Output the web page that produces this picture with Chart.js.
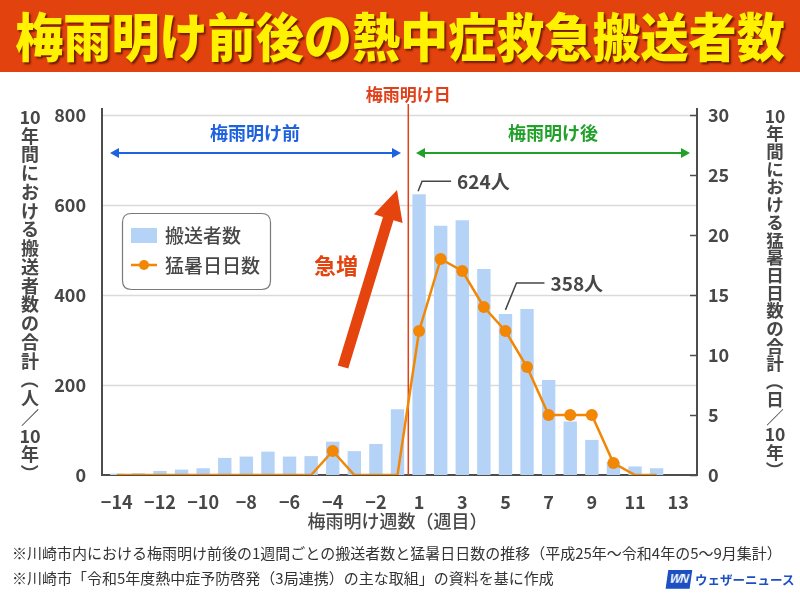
<!DOCTYPE html>
<html><head><meta charset="utf-8">
<script src="https://cdn.jsdelivr.net/npm/chart.js@4.4.0/dist/chart.umd.min.js"></script>
<style>
html,body{margin:0;padding:0;background:#fff;}
#wrap{position:relative;width:800px;height:600px;overflow:hidden;font-family:"Noto Sans CJK JP","Noto Sans",sans-serif;}
#banner{position:absolute;left:0;top:0;width:800px;height:72px;background:#e2420e;z-index:2;overflow:hidden;}
#banner h1{margin:0;position:absolute;left:-200px;top:0;width:1200px;line-height:70px;text-align:center;color:#fff100;font-size:52px;font-weight:900;transform:scaleX(0.925);transform-origin:center;text-shadow:2px 2px 2px rgba(90,20,0,0.85);white-space:nowrap;}
#c{position:absolute;left:0;top:0;}
.note{position:absolute;left:12px;font-size:15px;color:#333;white-space:nowrap;line-height:18px;z-index:2;}
#logo{position:absolute;left:667px;top:569px;height:20px;display:flex;align-items:center;z-index:2;white-space:nowrap;}
#logo .mark{background:#1b4fc2;color:#fff;font:bold italic 12px "Liberation Sans",sans-serif;padding:2px 3px;letter-spacing:-1px;transform:skewX(-8deg);}
#logo .name{color:#1b4fc2;font-weight:bold;font-size:12.5px;margin-left:4px;white-space:nowrap;}
</style></head>
<body>
<div id="wrap">
<canvas id="c" width="800" height="600"></canvas>
<div id="banner"><h1>梅雨明け前後の熱中症救急搬送者数</h1></div>
<div class="note" style="top:544px;">※川崎市内における梅雨明け前後の1週間ごとの搬送者数と猛暑日日数の推移（平成25年～令和4年の5～9月集計）</div>
<div class="note" style="top:569px;">※川崎市「令和5年度熱中症予防啓発（3局連携）の主な取組」の資料を基に作成</div>
<div id="logo"><span class="mark">WN</span><span class="name">ウェザーニュース</span></div>
</div>
<script>
const weeks = ["−14","−13","−12","−11","−10","−9","−8","−7","−6","−5","−4","−3","−2","−1","1","2","3","4","5","6","7","8","9","10","11","12","13"];
const transportCounts = [3,4,9,12,15,38,41,52,41,42,74,53,69,146,624,554,566,458,358,369,211,119,78,29,19,15,0];
const hotDayCounts = [0,0,0,0,0,0,0,0,0,0,2,0,0,0,12,18,17,14,12,9,5,5,5,1,0,0,null];
const countAxis = {min:0,max:800,step:200};
const dayAxis = {min:0,max:30,step:5};
const seriesNames = ["搬送者数","猛暑日日数"];
const leftTitle = ["10","年","間","に","お","け","る","搬","送","者","数","の","合","計","（","人","／","10","年","）"];
const rightTitle = ["10","年","間","に","お","け","る","猛","暑","日","日","数","の","合","計","（","日","／","10","年","）"];
const xTitle = "梅雨明け週数（週目）";
const callouts = [{index:14,text:"624人"},{index:18,text:"358人"}];

const JP = '"Noto Sans CJK JP","Noto Sans",sans-serif';
const BAR = '#b5d3f7', ORANGE = '#f28705', RED = '#e0401a', TXT = '#474747';

function vtext(ctx, cells, cx, y0, step){
  ctx.save();
  ctx.textAlign='center'; ctx.textBaseline='middle';
  cells.forEach((c,i)=>{
    const y=y0+i*step;
    if(c==='（'||c==='）'){
      ctx.save(); ctx.translate(cx,y); ctx.rotate(Math.PI/2); ctx.fillText(c,0,0); ctx.restore();
    } else ctx.fillText(c,cx,y);
  });
  ctx.restore();
}
function dblArrow(ctx,x1,x2,y,col){
  ctx.save(); ctx.strokeStyle=col; ctx.fillStyle=col; ctx.lineWidth=2;
  ctx.beginPath(); ctx.moveTo(x1+4,y); ctx.lineTo(x2-4,y); ctx.stroke();
  ctx.beginPath(); ctx.moveTo(x1,y); ctx.lineTo(x1+9,y-5); ctx.lineTo(x1+9,y+5); ctx.closePath(); ctx.fill();
  ctx.beginPath(); ctx.moveTo(x2,y); ctx.lineTo(x2-9,y-5); ctx.lineTo(x2-9,y+5); ctx.closePath(); ctx.fill();
  ctx.restore();
}
function bigArrow(ctx,tx,ty,hx,hy,col){
  const dx=hx-tx, dy=hy-ty, L=Math.hypot(dx,dy), ux=dx/L, uy=dy/L, nx=-uy, ny=ux;
  const sw=5.5, hl=30, hw=15;
  const bx=hx-ux*hl, by=hy-uy*hl;
  ctx.save(); ctx.fillStyle=col; ctx.beginPath();
  ctx.moveTo(tx+nx*sw,ty+ny*sw); ctx.lineTo(bx+nx*sw,by+ny*sw); ctx.lineTo(bx+nx*hw,by+ny*hw);
  ctx.lineTo(hx,hy); ctx.lineTo(bx-nx*hw,by-ny*hw); ctx.lineTo(bx-nx*sw,by-ny*sw); ctx.lineTo(tx-nx*sw,ty-ny*sw);
  ctx.closePath(); ctx.fill(); ctx.restore();
}
function rrect(ctx,x,y,w,h,r){
  ctx.beginPath(); ctx.moveTo(x+r,y); ctx.lineTo(x+w-r,y); ctx.quadraticCurveTo(x+w,y,x+w,y+r);
  ctx.lineTo(x+w,y+h-r); ctx.quadraticCurveTo(x+w,y+h,x+w-r,y+h); ctx.lineTo(x+r,y+h);
  ctx.quadraticCurveTo(x,y+h,x,y+h-r); ctx.lineTo(x,y+r); ctx.quadraticCurveTo(x,y,x+r,y); ctx.closePath();
}

const FL=102, FR=697, FT=108;
const framePlugin = {
  id:'frame',
  beforeDatasetsDraw(chart){
    const {ctx, chartArea:a, scales:{x,y,y1}} = chart;
    ctx.save();
    ctx.strokeStyle='#dadada'; ctx.lineWidth=1.5;
    y.ticks.forEach(t=>{ if(t.value===0) return; const p=Math.round(y.getPixelForValue(t.value))+0.5; ctx.beginPath(); ctx.moveTo(FL,p); ctx.lineTo(FR,p); ctx.stroke(); });
    ctx.strokeStyle='#4d4d4d'; ctx.lineWidth=2;
    ctx.beginPath(); ctx.moveTo(FL,FT); ctx.lineTo(FL,a.bottom); ctx.lineTo(FR,a.bottom); ctx.lineTo(FR,FT); ctx.stroke();
    ctx.lineWidth=1.5;
    y1.ticks.forEach(t=>{ const p=Math.round(y1.getPixelForValue(t.value))+0.5; ctx.beginPath(); ctx.moveTo(FR-7,p); ctx.lineTo(FR,p); ctx.stroke(); });
    const xm=(x.getPixelForValue(13)+x.getPixelForValue(14))/2;
    ctx.strokeStyle=RED; ctx.lineWidth=1.5;
    ctx.beginPath(); ctx.moveTo(xm,104); ctx.lineTo(xm,a.bottom); ctx.stroke();
    ctx.restore();
  },
  afterDraw(chart){
    const {ctx, chartArea:a, scales:{x,y,y1}} = chart;
    const xm=(x.getPixelForValue(13)+x.getPixelForValue(14))/2;
    ctx.save();
    ctx.textBaseline='middle'; ctx.textAlign='center';
    ctx.fillStyle=RED; ctx.font='bold 17px '+JP; ctx.fillText('梅雨明け日',xm,95);
    ctx.font='bold 18px '+JP;
    ctx.fillStyle='#1f62e0'; ctx.fillText('梅雨明け前',(110+400)/2,133);
    ctx.fillStyle='#22a12a'; ctx.fillText('梅雨明け後',(416+690)/2,133);
    dblArrow(ctx,110,401,153,'#1f62e0');
    dblArrow(ctx,416,690,153,'#22a12a');
    bigArrow(ctx,343,367,397,190,'#e5440f');
    ctx.fillStyle='#e5440f'; ctx.font='bold 22px '+JP; ctx.fillText('急増',336,266);
    ctx.strokeStyle=TXT; ctx.lineWidth=1.5; ctx.fillStyle=TXT; ctx.font='bold 19px '+JP; ctx.textAlign='left';
    const shapes=[[ -1,-3, 3,-13, 32],[ 0,-4, 11,-31, 39]];
    callouts.forEach((c,k)=>{
      const bx=x.getPixelForValue(c.index), by=y.getPixelForValue(transportCounts[c.index]);
      const s=shapes[k];
      ctx.beginPath(); ctx.moveTo(bx+s[0],by+s[1]); ctx.lineTo(bx+s[2],by+s[3]); ctx.lineTo(bx+s[4],by+s[3]); ctx.stroke();
      ctx.fillText(c.text,bx+s[4]+6,by+s[3]+1);
    });
    ctx.strokeStyle='#7a7a7a'; ctx.lineWidth=1.2; rrect(ctx,122.5,213.5,148,76,9); ctx.stroke();
    const ds=chart.data.datasets;
    ctx.fillStyle=ds[0].backgroundColor; ctx.fillRect(131,228,26,15);
    ctx.strokeStyle=ds[1].borderColor; ctx.lineWidth=2.5; ctx.beginPath(); ctx.moveTo(131,265); ctx.lineTo(157,265); ctx.stroke();
    ctx.fillStyle=ds[1].borderColor; ctx.beginPath(); ctx.arc(144,265,5,0,Math.PI*2); ctx.fill();
    ctx.fillStyle=TXT; ctx.font='500 19px '+JP; ctx.textAlign='left';
    ctx.fillText(ds[0].label,165,236); ctx.fillText(ds[1].label,165,266);
    ctx.fillStyle=TXT; ctx.font='bold 18px '+JP;
    vtext(ctx,leftTitle,30,117,18.75);
    ctx.font='bold 17.5px '+JP;
    vtext(ctx,rightTitle,775,116,17.7);
    ctx.textAlign='center'; ctx.font='500 18px '+JP;
    ctx.fillText(xTitle,(a.left+a.right)/2,521);
    ctx.restore();
  }
};

const tickFont={family:JP,size:18,weight:'600'};
new Chart(document.getElementById('c'),{
  type:'bar',
  data:{labels:weeks,datasets:[
    {type:'bar',label:seriesNames[0],data:transportCounts,backgroundColor:BAR,yAxisID:'y',barPercentage:0.62,categoryPercentage:1,order:2},
    {type:'line',label:seriesNames[1],data:hotDayCounts,yAxisID:'y1',borderColor:ORANGE,backgroundColor:ORANGE,borderWidth:2.5,
     pointRadius:c=>(c.raw>0?6:0),pointHoverRadius:0,pointBackgroundColor:ORANGE,pointBorderWidth:0,tension:0,order:1}
  ]},
  options:{
    responsive:false,animation:false,devicePixelRatio:1,
    layout:{padding:{top:115,left:0,right:0,bottom:0}},
    plugins:{legend:{display:false},tooltip:{enabled:false},title:{display:false}},
    scales:{
      x:{type:'category',offset:true,grid:{display:false},border:{display:false},
         ticks:{autoSkip:false,maxRotation:0,padding:8,color:TXT,font:tickFont,callback:(v,i)=>(i%2===0?weeks[i]:'')},
         afterFit:s=>{s.height=125;}},
      y:{position:'left',min:countAxis.min,max:countAxis.max,grid:{display:false,drawTicks:false},border:{display:false},
         ticks:{stepSize:countAxis.step,padding:20,color:TXT,font:tickFont},afterFit:s=>{s.width=106;}},
      y1:{position:'right',min:dayAxis.min,max:dayAxis.max,grid:{display:false,drawTicks:false},border:{display:false},
         ticks:{stepSize:dayAxis.step,padding:19,color:TXT,font:tickFont},afterFit:s=>{s.width=111;}}
    }
  },
  plugins:[framePlugin]
});
</script>
</body></html>
